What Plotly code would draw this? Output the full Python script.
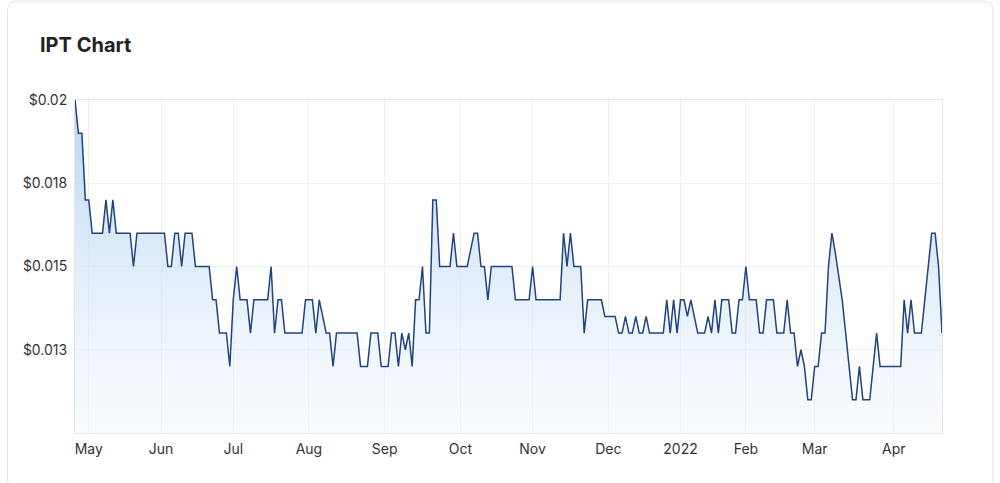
import pandas as pd
import plotly.graph_objects as go

# ---- data ----
holidays = ["2021-06-14", "2021-12-27", "2021-12-28", "2022-01-03",
            "2022-01-26", "2022-04-15", "2022-04-18", "2022-04-25"]
trade_days = pd.bdate_range("2021-04-27", "2022-04-26", freq="C", holidays=holidays)
dates = [d.strftime("%Y-%m-%d") for d in trade_days]

prices = [
    0.02, 0.019, 0.019, 0.017, 0.017, 0.016, 0.016, 0.016, 0.016, 0.017,
    0.016, 0.017, 0.016, 0.016, 0.016, 0.016, 0.016, 0.015, 0.016, 0.016,
    0.016, 0.016, 0.016, 0.016, 0.016, 0.016, 0.016, 0.015, 0.015, 0.016,
    0.016, 0.015, 0.016, 0.016, 0.016, 0.015, 0.015, 0.015, 0.015, 0.015,
    0.014, 0.014, 0.013, 0.013, 0.013, 0.012, 0.014, 0.015, 0.014, 0.014,
    0.014, 0.013, 0.014, 0.014, 0.014, 0.014, 0.014, 0.015, 0.013, 0.014,
    0.014, 0.013, 0.013, 0.013, 0.013, 0.013, 0.013, 0.014, 0.014, 0.014,
    0.013, 0.014, 0.0135, 0.013, 0.013, 0.012, 0.013, 0.013, 0.013, 0.013,
    0.013, 0.013, 0.013, 0.012, 0.012, 0.012, 0.013, 0.013, 0.013, 0.012,
    0.012, 0.012, 0.013, 0.013, 0.012, 0.013, 0.0125, 0.013, 0.012, 0.014,
    0.014, 0.015, 0.013, 0.013, 0.017, 0.017, 0.015, 0.015, 0.015, 0.015,
    0.016, 0.015, 0.015, 0.015, 0.015, 0.0155, 0.016, 0.016, 0.015, 0.015,
    0.014, 0.015, 0.015, 0.015, 0.015, 0.015, 0.015, 0.015, 0.014, 0.014,
    0.014, 0.014, 0.014, 0.015, 0.014, 0.014, 0.014, 0.014, 0.014, 0.014,
    0.014, 0.014, 0.016, 0.015, 0.016, 0.015, 0.015, 0.015, 0.013, 0.014,
    0.014, 0.014, 0.014, 0.014, 0.0135, 0.0135, 0.0135, 0.0135, 0.013, 0.013,
    0.0135, 0.013, 0.013, 0.0135, 0.013, 0.013, 0.0135, 0.013, 0.013, 0.013,
    0.013, 0.013, 0.014, 0.013, 0.014, 0.013, 0.014, 0.014, 0.0135, 0.014,
    0.0135, 0.013, 0.013, 0.013, 0.0135, 0.013, 0.014, 0.013, 0.014, 0.014,
    0.014, 0.013, 0.013, 0.014, 0.014, 0.015, 0.014, 0.014, 0.014, 0.013,
    0.013, 0.014, 0.014, 0.014, 0.013, 0.013, 0.013, 0.014, 0.013, 0.013,
    0.012, 0.0125, 0.012, 0.011, 0.011, 0.012, 0.012, 0.013, 0.013, 0.015,
    0.016, 0.0154, 0.0147, 0.014, 0.013, 0.012, 0.011, 0.011, 0.012, 0.011,
    0.011, 0.011, 0.012, 0.013, 0.012, 0.012, 0.012, 0.012, 0.012, 0.012,
    0.012, 0.014, 0.013, 0.014, 0.013, 0.013, 0.013, 0.014, 0.015, 0.016,
    0.016, 0.015, 0.013,
]
assert len(prices) == len(dates), (len(prices), len(dates))

month_labels = ["May", "Jun", "Jul", "Aug", "Sep", "Oct", "Nov", "Dec",
                "2022", "Feb", "Mar", "Apr"]
y_tick_values = [0.0125, 0.015, 0.0175, 0.02]
y_tick_labels = ["$0.013", "$0.015", "$0.018", "$0.02"]

# first trading day of each month (ordinal axis ticks)
month_firsts = []
seen = set()
for d in dates:
    key = d[:7]
    if key not in seen:
        seen.add(key)
        month_firsts.append(d)
month_ticks = month_firsts[1:]  # skip partial April 2021

# ---- figure ----
W, H = 1000, 483
L, R, T, B = 74.5, 58, 100, 50
pw, ph = W - L - R, H - T - B


def px_x(x):
    return (x - L) / pw


def px_y(y):
    return (H - B - y) / ph


fig = go.Figure()
fig.add_trace(go.Scatter(
    x=dates, y=prices, mode="lines",
    line=dict(color="#1f4480", width=1.5),
    fill="tozeroy",
    fillgradient=dict(type="vertical", start=0.01, stop=0.02,
                      colorscale=[[0, "rgba(238,245,252,0.35)"],
                                  [1, "rgba(165,202,238,0.8)"]]),
    hoverinfo="skip",
))

# card outline with rounded corners
x0, x1 = px_x(7), px_x(993)
y0, y1 = px_y(490), px_y(1)
rx, ry = 10 / pw, 10 / ph
path = (f"M {x0+rx},{y1} L {x1-rx},{y1} Q {x1},{y1} {x1},{y1-ry} "
        f"L {x1},{y0+ry} Q {x1},{y0} {x1-rx},{y0} L {x0+rx},{y0} "
        f"Q {x0},{y0} {x0},{y0+ry} L {x0},{y1-ry} Q {x0},{y1} {x0+rx},{y1} Z")
fig.add_shape(type="path", path=path, xref="paper", yref="paper",
              line=dict(color="#e4e4e4", width=1), fillcolor="white",
              layer="below")

fig.update_layout(
    width=W, height=H,
    margin=dict(l=L, r=R, t=T, b=B, pad=0),
    paper_bgcolor="white", plot_bgcolor="rgba(0,0,0,0)",
    showlegend=False,
    font=dict(family="Inter, Roboto, sans-serif", size=14, color="#333333"),
    title=dict(text="<b>IPT Chart</b>", x=40 / W, xref="container", xanchor="left",
               y=1 - 45 / H, yref="container", yanchor="middle",
               font=dict(family="Inter, sans-serif", size=20, color="#222222")),
    xaxis=dict(type="category", range=[0, len(dates) - 1],
               tickmode="array", tickvals=month_ticks, ticktext=month_labels,
               showgrid=True, gridcolor="#efefef", gridwidth=1,
               showline=True, linecolor="#e6e6e6", mirror=True,
               ticks="", ticklabelstandoff=3, zeroline=False,
               tickfont=dict(size=14, color="#333333")),
    yaxis=dict(range=[0.01, 0.02], tickmode="array",
               tickvals=y_tick_values, ticktext=y_tick_labels,
               showgrid=True, gridcolor="#efefef", gridwidth=1,
               showline=True, linecolor="#e6e6e6", mirror=True,
               ticks="", ticklabelstandoff=4, zeroline=False,
               tickfont=dict(size=14, color="#333333")),
    hovermode=False,
)

fig.write_html("out.html")
